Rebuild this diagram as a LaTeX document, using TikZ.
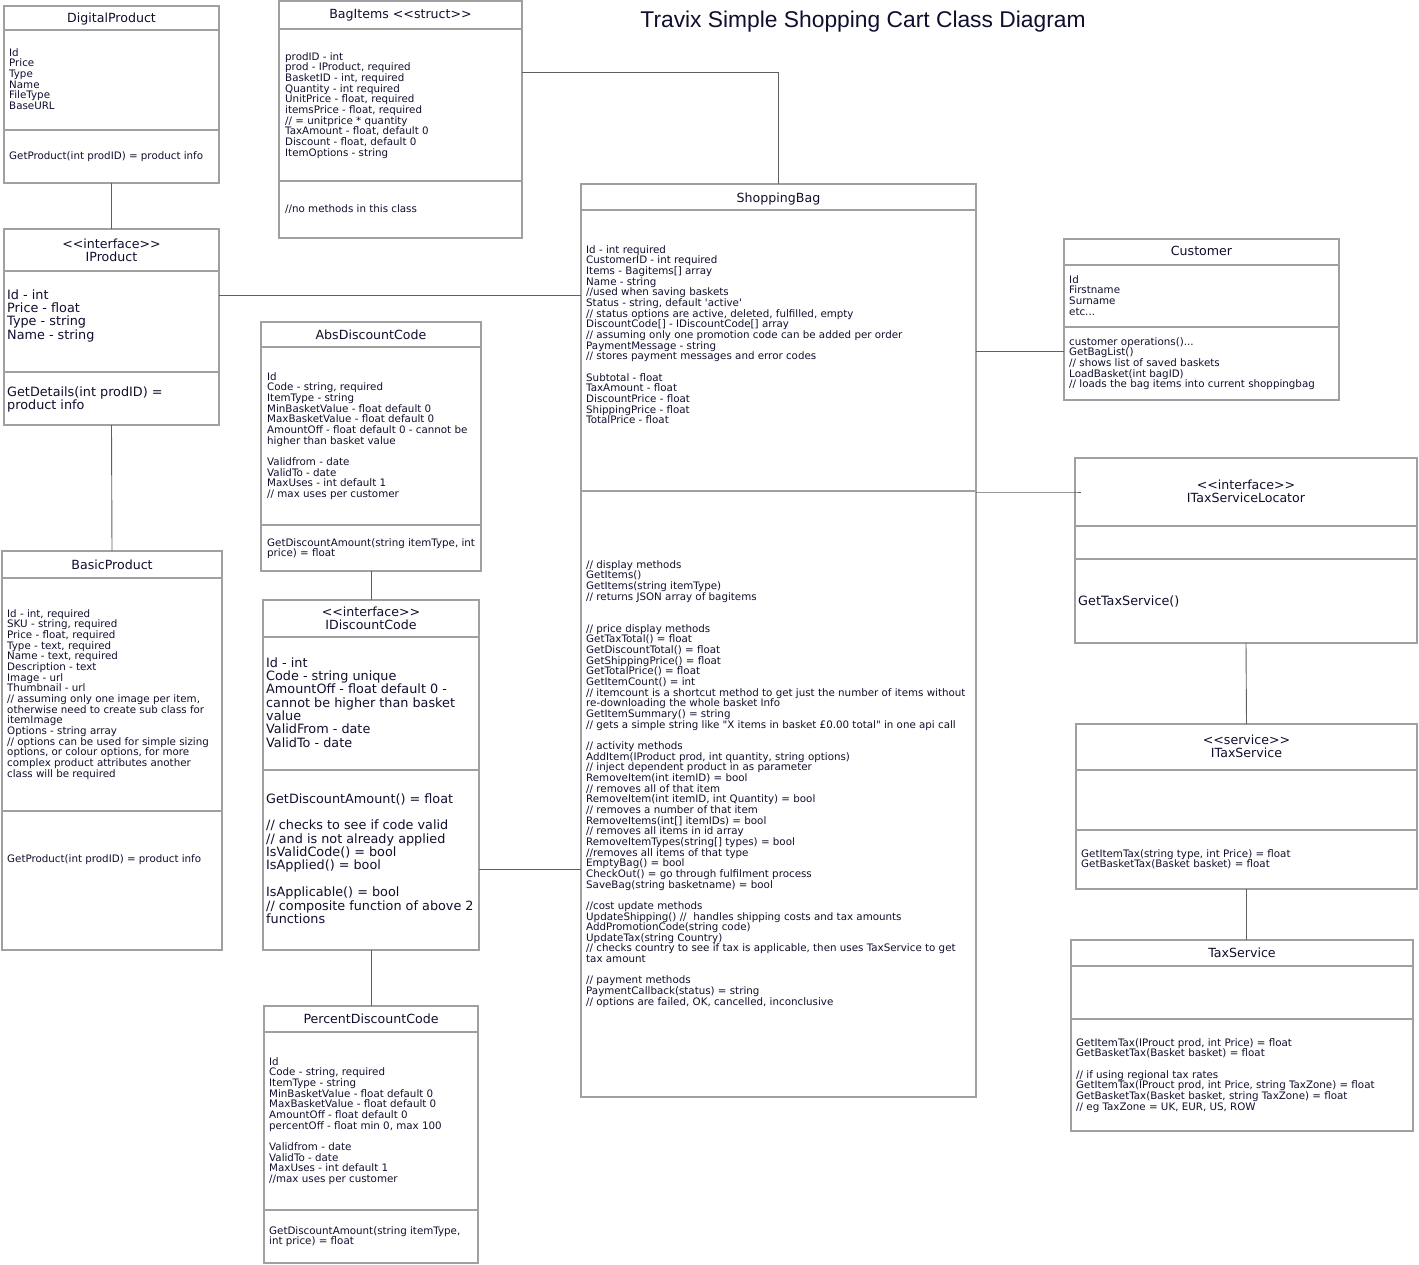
\documentclass[tikz,border=0pt]{standalone}
\usepackage{fontspec}
\usepackage{tikz}
\usetikzlibrary{calc}
\newfontfamily\umlfont{DejaVu Sans}
\newfontfamily\headfont{Liberation Sans}
\definecolor{umlline}{RGB}{160,160,160}
\definecolor{umllink}{RGB}{95,95,95}
\definecolor{umltext}{RGB}{15,15,45}
\tikzstyle{classbox} = [draw=umlline, line width=1.4pt, fill=white, anchor=north west, inner sep=0, outer sep=0]
\tikzstyle{divider} = [draw=umlline, line width=1.4pt]
\tikzstyle{link} = [draw=umllink, line width=0.9pt]
\tikzstyle{classname} = [anchor=north, align=center, inner sep=0, font={\umlfont\fontsize{12.6}{13.3}\selectfont}]
\tikzstyle{members} = [anchor=north west, align=left, inner sep=0]
\tikzstyle{bigmembers} = [members, font={\umlfont\fontsize{12.8}{13.35}\selectfont}]
\tikzstyle{diagtitle} = [anchor=center, inner sep=0, font={\headfont\fontsize{22.8}{26}\selectfont}]
\tikzset{font={\umlfont\fontsize{10.3}{10.66}\selectfont}, text=umltext}

\begin{document}
\begin{tikzpicture}[x=1pt, y=-1pt]
  \useasboundingbox (0,0) rectangle (1419,1264);
  \node[at={(863,22)}, diagtitle] (title) {Travix Simple Shopping Cart Class Diagram};

  % products
  \node[classbox, at={(4,6)}, minimum width=215, minimum height=177] (digital) {};
  \draw[divider] (digital.west |- 0,30) -- (digital.east |- 0,30)
                 (digital.west |- 0,130) -- (digital.east |- 0,130);
  \node[classname, at={(digital.north |- 0,12.4)}] (digital-name) {DigitalProduct};
  \node[members, at={(9,48.2)}] (digital-attrs) {Id\\Price\\Type\\Name\\FileType\\BaseURL};
  \node[members, at={(9,151.2)}] (digital-ops) {GetProduct(int prodID) = product info};

  \node[classbox, at={(4,229)}, minimum width=215, minimum height=196] (iproduct) {};
  \draw[divider] (iproduct.west |- 0,271) -- (iproduct.east |- 0,271)
                 (iproduct.west |- 0,372) -- (iproduct.east |- 0,372);
  \node[classname, at={(iproduct.north |- 0,238.4)}] (iproduct-name) {<<interface>>\\IProduct};
  \node[bigmembers, at={(7,289.3)}] (iproduct-attrs) {Id - int\\Price - float\\Type - string\\Name - string};
  \node[bigmembers, at={(7,386.3)}] (iproduct-ops) {GetDetails(int prodID) =\\product info};

  \node[classbox, at={(2,551)}, minimum width=220, minimum height=399] (basic) {};
  \draw[divider] (basic.west |- 0,578) -- (basic.east |- 0,578)
                 (basic.west |- 0,811) -- (basic.east |- 0,811);
  \node[classname, at={(basic.north |- 0,559.4)}] (basic-name) {BasicProduct};
  \node[members, at={(7,609.2)}] (basic-attrs) {Id - int, required\\SKU - string, required\\Price - float, required\\Type - text, required\\Name - text, required\\Description - text\\Image - url\\Thumbnail - url\\// assuming only one image per item,\\otherwise need to create sub class for\\itemImage\\Options - string array\\// options can be used for simple sizing\\options, or colour options, for more\\complex product attributes another\\class will be required};
  \node[members, at={(7,854.2)}] (basic-ops) {GetProduct(int prodID) = product info};

  % bag items
  \node[classbox, at={(279,1)}, minimum width=243, minimum height=237] (bagitems) {};
  \draw[divider] (bagitems.west |- 0,29) -- (bagitems.east |- 0,29)
                 (bagitems.west |- 0,181) -- (bagitems.east |- 0,181);
  \node[classname, at={(bagitems.north |- 0,9.4)}] (bagitems-name) {BagItems <<struct>>};
  \node[members, at={(285,52.2)}] (bagitems-attrs) {prodID - int\\prod - IProduct, required\\BasketID - int, required\\Quantity - int required\\UnitPrice - float, required\\itemsPrice - float, required\\// = unitprice * quantity\\TaxAmount - float, default 0\\Discount - float, default 0\\ItemOptions - string};
  \node[members, at={(285,204.2)}] (bagitems-ops) {//no methods in this class};

  % discount codes
  \node[classbox, at={(261,322)}, minimum width=220, minimum height=249] (absdisc) {};
  \draw[divider] (absdisc.west |- 0,347) -- (absdisc.east |- 0,347)
                 (absdisc.west |- 0,525) -- (absdisc.east |- 0,525);
  \node[classname, at={(absdisc.north |- 0,329.4)}] (absdisc-name) {AbsDiscountCode};
  \node[members, at={(267,372.2)}] (absdisc-attrs) {Id\\Code - string, required\\ItemType - string\\MinBasketValue - float default 0\\MaxBasketValue - float default 0\\AmountOff - float default 0 - cannot be\\higher than basket value\\~\\Validfrom - date\\ValidTo - date\\MaxUses - int default 1\\// max uses per customer};
  \node[members, at={(267,538.2)}] (absdisc-ops) {GetDiscountAmount(string itemType, int\\price) = float};

  \node[classbox, at={(263,600)}, minimum width=216, minimum height=350] (idisc) {};
  \draw[divider] (idisc.west |- 0,637) -- (idisc.east |- 0,637)
                 (idisc.west |- 0,770) -- (idisc.east |- 0,770);
  \node[classname, at={(idisc.north |- 0,606.4)}] (idisc-name) {<<interface>>\\IDiscountCode};
  \node[bigmembers, at={(266,657.3)}] (idisc-attrs) {Id - int\\Code - string unique\\AmountOff - float default 0 -\\cannot be higher than basket\\value\\ValidFrom - date\\ValidTo - date};
  \node[bigmembers, at={(266,793.3)}] (idisc-ops) {GetDiscountAmount() = float\\~\\// checks to see if code valid\\// and is not already applied\\IsValidCode() = bool\\IsApplied() = bool\\~\\IsApplicable() = bool\\// composite function of above 2\\functions};

  \node[classbox, at={(264,1006)}, minimum width=214, minimum height=257] (percent) {};
  \draw[divider] (percent.west |- 0,1032) -- (percent.east |- 0,1032)
                 (percent.west |- 0,1210) -- (percent.east |- 0,1210);
  \node[classname, at={(percent.north |- 0,1013.4)}] (percent-name) {PercentDiscountCode};
  \node[members, at={(269,1057.2)}] (percent-attrs) {Id\\Code - string, required\\ItemType - string\\MinBasketValue - float default 0\\MaxBasketValue - float default 0\\AmountOff - float default 0\\percentOff - float min 0, max 100\\~\\Validfrom - date\\ValidTo - date\\MaxUses - int default 1\\//max uses per customer};
  \node[members, at={(269,1226.2)}] (percent-ops) {GetDiscountAmount(string itemType,\\int price) = float};

  % shopping bag
  \node[classbox, at={(581,184)}, minimum width=395, minimum height=913] (shopbag) {};
  \draw[divider] (shopbag.west |- 0,210) -- (shopbag.east |- 0,210)
                 (shopbag.west |- 0,491) -- (shopbag.east |- 0,491);
  \node[classname, at={(shopbag.north |- 0,192.4)}] (shopbag-name) {ShoppingBag};
  \node[members, at={(586,245.2)}] (shopbag-attrs) {Id - int required\\CustomerID - int required\\Items - Bagitems[] array\\Name - string\\//used when saving baskets\\Status - string, default 'active'\\// status options are active, deleted, fulfilled, empty\\DiscountCode[] - IDiscountCode[] array\\// assuming only one promotion code can be added per order\\PaymentMessage - string\\// stores payment messages and error codes\\~\\Subtotal - float\\TaxAmount - float\\DiscountPrice - float\\ShippingPrice - float\\TotalPrice - float};
  \node[members, at={(586,560.2)}] (shopbag-ops) {// display methods\\GetItems()\\GetItems(string itemType)\\// returns JSON array of bagitems\\~\\~\\// price display methods\\GetTaxTotal() = float\\GetDiscountTotal() = float\\GetShippingPrice() = float\\GetTotalPrice() = float\\GetItemCount() = int\\// itemcount is a shortcut method to get just the number of items without\\re-downloading the whole basket Info\\GetItemSummary() = string\\// gets a simple string like "X items in basket £0.00 total" in one api call\\~\\// activity methods\\AddItem(IProduct prod, int quantity, string options)\\// inject dependent product in as parameter\\RemoveItem(int itemID) = bool\\// removes all of that item\\RemoveItem(int itemID, int Quantity) = bool\\// removes a number of that item\\RemoveItems(int{[]} itemIDs) = bool\\// removes all items in id array\\RemoveItemTypes(string{[]} types) = bool\\//removes all items of that type\\EmptyBag() = bool\\CheckOut() = go through fulfilment process\\SaveBag(string basketname) = bool\\~\\//cost update methods\\UpdateShipping() //~ handles shipping costs and tax amounts\\AddPromotionCode(string code)\\UpdateTax(string Country)\\// checks country to see if tax is applicable, then uses TaxService to get\\tax amount\\~\\// payment methods\\PaymentCallback(status) = string\\// options are failed, OK, cancelled, inconclusive};

  % customer
  \node[classbox, at={(1064,239)}, minimum width=275, minimum height=161] (customer) {};
  \draw[divider] (customer.west |- 0,265) -- (customer.east |- 0,265)
                 (customer.west |- 0,327) -- (customer.east |- 0,327);
  \node[classname, at={(customer.north |- 0,246.4)}] (customer-name) {Customer};
  \node[members, at={(1069,275.2)}] (customer-attrs) {Id\\Firstname\\Surname\\etc...};
  \node[members, at={(1069,337.2)}] (customer-ops) {customer operations()...\\GetBagList()\\// shows list of saved baskets\\LoadBasket(int bagID)\\// loads the bag items into current shoppingbag};

  % tax services
  \node[classbox, at={(1075,458)}, minimum width=342, minimum height=185] (locator) {};
  \draw[divider] (locator.west |- 0,526) -- (locator.east |- 0,526)
                 (locator.west |- 0,559) -- (locator.east |- 0,559);
  \node[classname, at={(locator.north |- 0,479.4)}] (locator-name) {<<interface>>\\ITaxServiceLocator};
  \node[bigmembers, at={(1078,595.3)}] (locator-ops) {GetTaxService()};

  \node[classbox, at={(1076,724)}, minimum width=341, minimum height=165] (itax) {};
  \draw[divider] (itax.west |- 0,770) -- (itax.east |- 0,770)
                 (itax.west |- 0,830) -- (itax.east |- 0,830);
  \node[classname, at={(itax.north |- 0,734.4)}] (itax-name) {<<service>>\\ITaxService};
  \node[members, at={(1081,849.2)}] (itax-ops) {GetItemTax(string type, int Price) = float\\GetBasketTax(Basket basket) = float};

  \node[classbox, at={(1071,940)}, minimum width=342, minimum height=191] (taxsvc) {};
  \draw[divider] (taxsvc.west |- 0,966) -- (taxsvc.east |- 0,966)
                 (taxsvc.west |- 0,1019) -- (taxsvc.east |- 0,1019);
  \node[classname, at={(taxsvc.north |- 0,947.4)}] (taxsvc-name) {TaxService};
  \node[members, at={(1076,1038.2)}] (taxsvc-ops) {GetItemTax(IProuct prod, int Price) = float\\GetBasketTax(Basket basket) = float\\~\\// if using regional tax rates\\GetItemTax(IProuct prod, int Price, string TaxZone) = float\\GetBasketTax(Basket basket, string TaxZone) = float\\// eg TaxZone = UK, EUR, US, ROW};

  % links
  \draw[link] (digital.south) -- (iproduct.north);
  \draw[link] (iproduct.south) -- (basic.north);
  \draw[link] (iproduct.east |- 0,295) -- (shopbag.west |- 0,295);
  \draw[link] (bagitems.east |- 0,72) -| (shopbag.north);
  \draw[link] (absdisc.south) -- (idisc.north);
  \draw[link] (idisc.south) -- (percent.north);
  \draw[link] (idisc.east |- 0,869) -- (shopbag.west |- 0,869);
  \draw[link] (shopbag.east |- 0,351) -- (customer.west |- 0,351);
  \draw[link] (shopbag.east |- 0,492) -- (locator.west |- 0,492) -- ++(6,0);
  \draw[link] (locator.south) -- (itax.north);
  \draw[link] (itax.south) -- (itax.south |- taxsvc.north);

\end{tikzpicture}
\end{document}
